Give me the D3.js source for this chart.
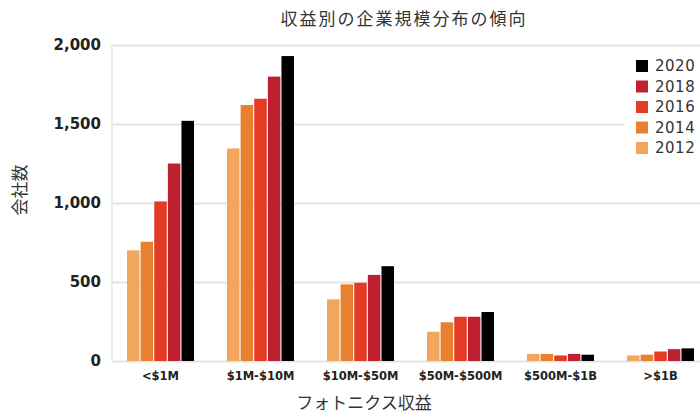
<!DOCTYPE html>
<meta charset="utf-8">
<style>
  body { margin: 0; background: #fff; }
  svg { display: block; }
</style>
<body>
</body>
<script src="https://d3js.org/d3.v7.min.js"></script>
<script>

var width = 700,
    height = 416;

var categories = ["<$1M", "$1M-$10M", "$10M-$50M", "$50M-$500M", "$500M-$1B", ">$1B"];
var years = ["2012", "2014", "2016", "2018", "2020"];
var colors = ["#f2a55c", "#e8812f", "#e33b26", "#be2030", "#000000"];

var v2012 = [700, 1345, 390, 185, 45, 35];
var v2014 = [755, 1620, 485, 245, 45, 40];
var v2016 = [1010, 1660, 495, 280, 35, 60];
var v2018 = [1250, 1800, 545, 280, 45, 75];
var v2020 = [1520, 1930, 600, 310, 40, 80];
var series = [v2012, v2014, v2016, v2018, v2020];

var yTicks = [0, 500, 1000, 1500, 2000];

var x0 = d3.scaleBand()
    .domain(categories)
    .range([112, 709])
    .paddingInner(0.33)
    .paddingOuter(0.15);

var x1 = d3.scaleBand()
    .domain(years)
    .range([0, x0.bandwidth()])
    .paddingInner(0.08);

var y = d3.scaleLinear()
    .domain([0, 2000])
    .range([361, 45]);

var color = d3.scaleOrdinal(years, colors);

var svg = d3.select("body").append("svg")
    .attr("width", width)
    .attr("height", height);

// gridlines
svg.append("g")
    .attr("transform", "translate(112,0)")
    .call(d3.axisRight(y).tickValues(yTicks).tickSize(600).tickFormat(""))
    .call(function(g) {
      g.select(".domain").remove();
      g.selectAll("line").attr("stroke", "#e4e4e4").attr("stroke-width", 2);
    });

// y axis line
svg.append("line")
    .attr("x1", 112).attr("x2", 112)
    .attr("y1", y(2000)).attr("y2", y(0))
    .attr("stroke", "#e4e4e4")
    .attr("stroke-width", 1.5);

// y tick labels
svg.append("g")
    .attr("transform", "translate(112,0)")
    .call(d3.axisLeft(y).tickValues(yTicks).tickSize(0).tickPadding(11).tickFormat(d3.format(",")))
    .call(function(g) {
      g.select(".domain").remove();
      g.selectAll("text")
          .attr("font-family", "DejaVu Sans")
          .attr("font-weight", "bold")
          .attr("font-size", 15)
          .attr("fill", "#222");
    });

// bars
var groups = svg.append("g")
  .selectAll("g")
    .data(categories)
  .enter().append("g")
    .attr("transform", function(d) { return "translate(" + x0(d) + ",0)"; });

groups.selectAll("rect")
    .data(function(d, i) { return years.map(function(yr, j) { return {year: yr, value: series[j][i]}; }); })
  .enter().append("rect")
    .attr("x", function(d) { return x1(d.year); })
    .attr("y", function(d) { return y(d.value); })
    .attr("width", x1.bandwidth())
    .attr("height", function(d) { return y(0) - y(d.value); })
    .attr("fill", function(d) { return color(d.year); });

// x tick labels
svg.append("g")
    .attr("transform", "translate(0,368)")
    .call(d3.axisBottom(x0).tickSize(0).tickPadding(4))
    .call(function(g) {
      g.select(".domain").remove();
      g.selectAll("text")
          .attr("font-family", "DejaVu Sans")
          .attr("font-weight", "bold")
          .attr("font-size", 11.5)
          .attr("fill", "#222");
    });

// legend
svg.append("rect")
    .attr("x", 624).attr("y", 50)
    .attr("width", 80).attr("height", 118)
    .attr("fill", "#fff");

var legend = svg.append("g")
  .selectAll("g")
    .data(years.slice().reverse())
  .enter().append("g")
    .attr("transform", function(d, i) { return "translate(636," + (66 + i * 20.5) + ")"; });

legend.append("rect")
    .attr("x", 0).attr("y", -6)
    .attr("width", 12).attr("height", 12)
    .attr("fill", function(d) { return color(d); });

legend.append("text")
    .attr("x", 19)
    .attr("dy", "0.35em")
    .attr("font-family", "DejaVu Sans")
    .attr("font-size", 15)
    .attr("letter-spacing", 0.5)
    .attr("fill", "#333")
    .text(function(d) { return d; });

// titles
svg.append("text")
    .attr("x", 404).attr("y", 25)
    .attr("text-anchor", "middle")
    .attr("font-family", "Noto Sans CJK JP")
    .attr("font-size", 17)
    .attr("letter-spacing", 2)
    .attr("fill", "#333")
    .text("収益別の企業規模分布の傾向");

svg.append("text")
    .attr("x", 364).attr("y", 409)
    .attr("text-anchor", "middle")
    .attr("font-family", "Noto Sans CJK JP")
    .attr("font-size", 17)
    .attr("fill", "#333")
    .text("フォトニクス収益");

svg.append("text")
    .attr("transform", "translate(26,190) rotate(-90)")
    .attr("text-anchor", "middle")
    .attr("font-family", "Noto Sans CJK JP")
    .attr("font-size", 17)
    .attr("fill", "#333")
    .text("会社数");

</script>
